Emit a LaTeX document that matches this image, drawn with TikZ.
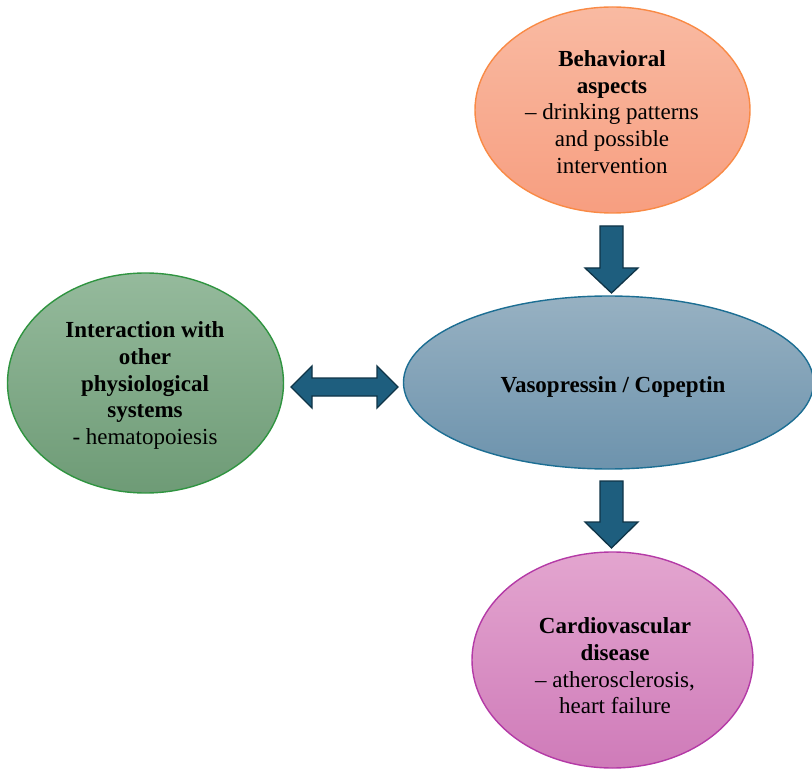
\documentclass[tikz,border=0pt]{standalone}
\usepackage{fontspec}
\setmainfont{Liberation Serif}
\usetikzlibrary{shapes.geometric,calc}
\definecolor{orTop}{HTML}{F9BAA2}
\definecolor{orBot}{HTML}{F79E80}
\definecolor{orLine}{HTML}{F98A45}
\definecolor{grTop}{HTML}{95BA9C}
\definecolor{grBot}{HTML}{6E9B76}
\definecolor{grLine}{HTML}{2F9440}
\definecolor{blTop}{HTML}{97B1C2}
\definecolor{blBot}{HTML}{6D93AD}
\definecolor{blLine}{HTML}{1C6E93}
\definecolor{pkTop}{HTML}{E3A5CF}
\definecolor{pkBot}{HTML}{CF7BB9}
\definecolor{pkLine}{HTML}{B43AA6}
\definecolor{arFill}{HTML}{1E5E7E}
\definecolor{arLine}{HTML}{0F3447}
\tikzset{
  blob/.style={ellipse, inner sep=0pt, line width=1.4pt},
  txt/.style={align=center, inner sep=0pt, font=\fontsize{23}{26.7}\selectfont, text=black},
  fat/.style={fill=arFill, draw=arLine, line width=1.3pt, line join=miter}
}
\begin{document}
\begin{tikzpicture}[x=1pt,y=-1pt]
\useasboundingbox (0,0) rectangle (812,770);
% ellipses
\node[blob, draw=orLine, top color=orTop, bottom color=orBot, minimum width=275pt, minimum height=206pt] (beh) at (612.5,110) {};
\node[blob, draw=grLine, top color=grTop, bottom color=grBot, minimum width=276pt, minimum height=220pt] (inter) at (145.5,383) {};
\node[blob, draw=blLine, top color=blTop, bottom color=blBot, minimum width=410pt, minimum height=173pt] (vaso) at (608.5,382.5) {};
\node[blob, draw=pkLine, top color=pkTop, bottom color=pkBot, minimum width=281pt, minimum height=216pt] (cardio) at (612.5,660) {};
% texts
\node[txt] (behT) at (612,112) {\textbf{Behavioral}\\\textbf{aspects}\\– drinking patterns\\and possible\\intervention};
\node[txt] (interT) at (145,385.5) {\textbf{Interaction with}\\\textbf{other}\\\textbf{physiological}\\\textbf{systems}\\- hematopoiesis};
\node[txt, anchor=base] (vasoT) at (613,392) {\textbf{Vasopressin / Copeptin}};
\node[txt] (cardioT) at (615,666) {\textbf{Cardiovascular}\\\textbf{disease}\\– atherosclerosis,\\heart failure};
% arrow anchors
\coordinate (a1s) at (611.5,226);
\coordinate (a1e) at (611.5,293);
\coordinate (a2s) at (611.5,481);
\coordinate (a2e) at (611.5,548);
\coordinate (hL) at (291,387);
\coordinate (hR) at (398,387);
% down arrow: behavioral -> vasopressin
\draw[fat] (a1e) -- ++(26.5,-25) -- ++(-15,0) |- (a1s) -- ++(-11.5,0) -- ++(0,42) -- ++(-15,0) -- cycle;
% down arrow: vasopressin -> cardiovascular
\draw[fat] (a2e) -- ++(26.5,-26) -- ++(-15,0) |- (a2s) -- ++(-11.5,0) -- ++(0,41) -- ++(-15,0) -- cycle;
% double arrow: interaction <-> vasopressin
\draw[fat] (hL) -- ++(21,-21) -- ++(0,12) -- ++(65,0) -- ++(0,-12) -- (hR) -- ++(-21,21) -- ++(0,-12) -- ++(-65,0) -- ++(0,12) -- cycle;
\end{tikzpicture}
\end{document}
